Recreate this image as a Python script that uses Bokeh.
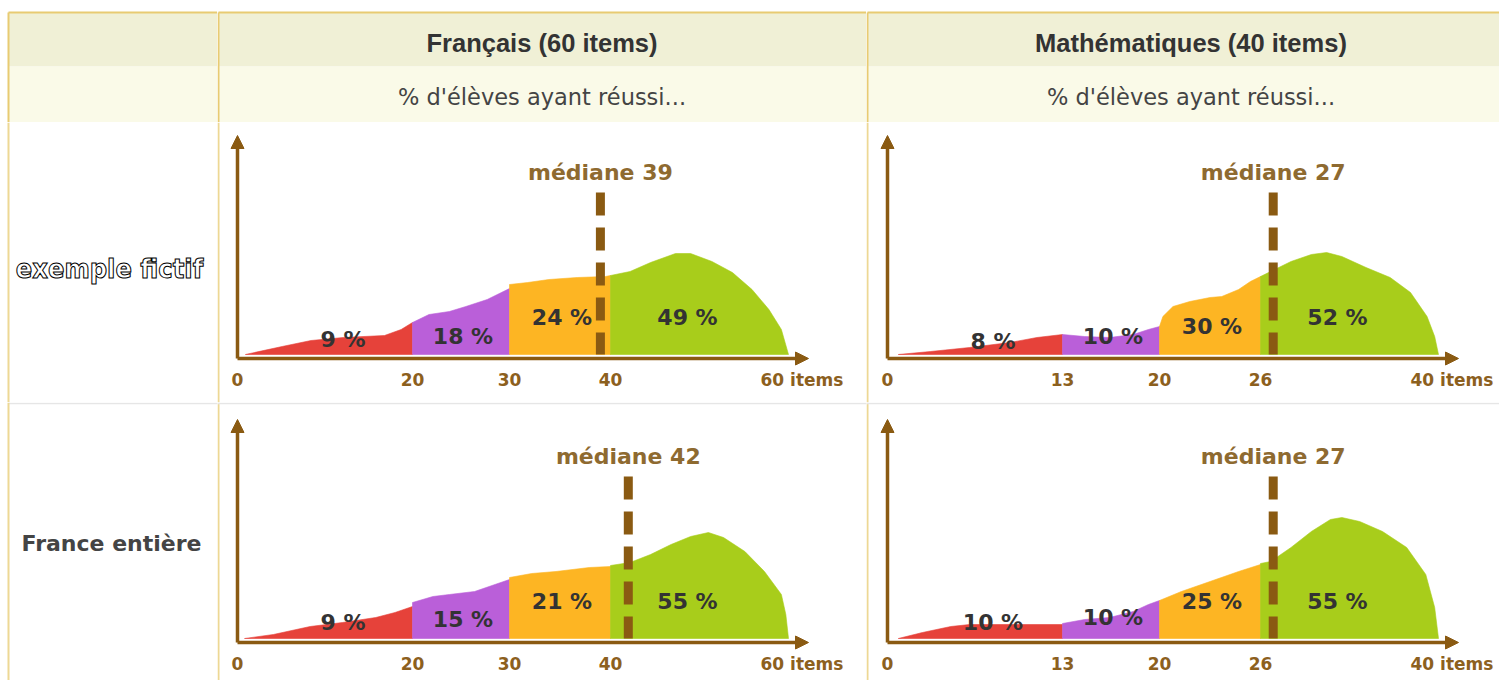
import numpy as np
from bokeh.plotting import figure
from bokeh.layouts import row, column
from bokeh.models import Range1d, Arrow, NormalHead, Span
from bokeh.core.properties import value
from bokeh.embed import file_html
from bokeh.resources import INLINE

# ---------------- data ----------------
SUBJECT_TITLES = ["Français (60 items)", "Mathématiques (40 items)"]
SUBTITLE = "% d'élèves ayant réussi..."
ROW_LABELS = ["exemple fictif", "France entière"]

FR_BOUNDS = [0, 20, 30, 40, 60]
FR_TICK_LABELS = ["0", "20", "30", "40", "60 items"]
MA_BOUNDS = [0, 13, 20, 26, 40]
MA_TICK_LABELS = ["0", "13", "20", "26", "40 items"]

# row 1 (exemple fictif) - Français
FR1_PCT = [9, 18, 24, 49]
FR1_MEDIAN = 39
FR1_X = [[0.9, 5.1, 8.4, 12.1, 16.8, 18.7, 20],
         [20, 21.7, 23.8, 25.5, 27.7, 30],
         [30, 31.8, 33.9, 36.7, 39.5, 40],
         [40, 42.2, 44.5, 47.3, 49.0, 51.4, 53.7, 55.9, 57.8, 59.2, 60]]
FR1_H = [[0, 8, 14, 17, 19, 25, 32],
         [32, 40, 43, 48, 55, 66],
         [70, 72, 75, 77, 78, 79],
         [79, 83, 92, 101, 101, 93, 82, 65, 45, 25, 0]]

# row 1 - Mathématiques
MA1_PCT = [8, 10, 30, 52]
MA1_MEDIAN = 27
MA1_X = [[0.8, 3.2, 6.1, 9.1, 11.1, 13],
         [13, 14.6, 16.4, 18.1, 19.2, 20],
         [20, 20.2, 20.8, 21.8, 23.0, 23.7, 24.7, 25.4, 26],
         [26, 26.8, 28.4, 30.0, 31.2, 32.4, 34.3, 36.2, 37.8, 39.1, 39.7, 40]]
MA1_H = [[0, 3, 7, 12, 17, 20],
         [20, 18, 17, 20, 25, 28],
         [28, 38, 48, 53, 57, 58, 65, 73, 78],
         [78, 83, 93, 100, 102, 98, 87, 77, 62, 38, 18, 0]]

# row 2 (France entière) - Français
FR2_PCT = [9, 15, 21, 55]
FR2_MEDIAN = 42
FR2_X = [[0.8, 4.1, 8.3, 12.0, 15.8, 18.0, 20],
         [20, 22.1, 23.8, 26.4, 28.5, 30],
         [30, 32.2, 34.6, 37.9, 40],
         [40, 42.2, 44.5, 46.8, 49.0, 51.0, 52.7, 55.1, 57.3, 59.2, 59.7, 60]]
FR2_H = [[0, 4, 12, 16, 21, 26, 32],
         [36, 42, 44, 47, 54, 59],
         [61, 65, 67, 71, 72],
         [73, 76, 84, 94, 102, 106, 101, 87, 67, 44, 24, 0]]

# row 2 - Mathématiques
MA2_PCT = [10, 10, 25, 55]
MA2_MEDIAN = 27
MA2_X = [[0.8, 2.6, 4.7, 6.1, 9.1, 13],
         [13, 14.6, 16.4, 18.1, 19.2, 20],
         [20, 21.3, 23.0, 24.7, 26],
         [26, 26.8, 28.4, 30.0, 31.5, 32.4, 33.8, 35.6, 37.5, 39.0, 39.7, 40]]
MA2_H = [[0, 6, 12, 14, 14, 14],
         [15, 19, 21, 27, 34, 38],
         [38, 47, 57, 67, 74],
         [75, 77, 91, 107, 119, 121, 117, 107, 91, 64, 31, 0]]

# ---------------- style / layout ----------------
SEG_COLORS = ["#E6423A", "#BA5FD9", "#FDB523", "#A8CD1B"]
BROWN = "#8A5A12"
MED_TEXT_COLOR = "#8E6A30"
TICK_COLOR = "#8C601E"
PCT_COLOR = "#333333"
GOLD = "#E8CB72"
GOLD_LIGHT = "#EDD894"
SEP_GRAY = "#E6E6E6"
BAND1 = "#F0F0D6"
BAND2 = "#FAFAE8"

EDGES = [0, 175, 272, 373, 551]       # schematic display positions of the bin edges
ARROW_X = 571
ARROW_Y = 223
BASE = 4
MED_TOP = 166
MED_TEXT_Y = 186
TICK_Y = -21
LABEL_SHIFT = [18, 2, 2, -12]

LEFT_W, FR_W, MA_W = 217, 649, 633
COL_W = 649
HEAD_H, ROW1_H, ROW2_H = 122, 280, 278
BORDER_X = 8


def base_fig(w, h, xr, yr):
    p = figure(width=w, height=h, x_range=xr, y_range=yr,
               output_backend="svg", toolbar_location=None, tools="",
               x_axis_location=None, y_axis_location=None, min_border=0,
               background_fill_color="white", border_fill_color="white")
    p.outline_line_color = None
    p.xgrid.grid_line_color = None
    p.ygrid.grid_line_color = None
    return p


def header(w, title, left_x):
    p = base_fig(w, HEAD_H, Range1d(0, w), Range1d(0, HEAD_H))
    p.quad(left=[left_x], right=[w], bottom=[56], top=[110], fill_color=BAND1, line_color=None)
    p.quad(left=[left_x], right=[w], bottom=[0], top=[56], fill_color=BAND2, line_color=None)
    p.segment(x0=[left_x], y0=[110], x1=[w], y1=[110], line_color=GOLD, line_width=2)
    p.segment(x0=[left_x], y0=[0], x1=[left_x], y1=[110], line_color=GOLD, line_width=2)
    if title:
        p.text(x=[COL_W / 2], y=[80], text=[title], text_align="center", text_baseline="middle",
               text_font=value("Liberation Sans"), text_font_style="bold",
               text_font_size="25.5px", text_color="#333333")
        p.text(x=[COL_W / 2], y=[26], text=[SUBTITLE], text_align="center", text_baseline="middle",
               text_font=value("DejaVu Sans"), text_font_size="22.5px", text_color="#444444")
    return p


def panel(w, h, x0, ybot, bounds, tick_labels, seg_x, seg_h, pct, median, label_dy, top_sep):
    p = base_fig(w, h, Range1d(-x0, w - x0), Range1d(ybot, ybot + h))

    def disp(v):
        return np.interp(np.asarray(v, dtype=float), bounds, EDGES)

    centers = []
    for k in range(4):
        xs = disp(seg_x[k])
        ys = BASE + np.asarray(seg_h[k], dtype=float)
        px = np.concatenate([[xs[0]], xs, [xs[-1]]])
        py = np.concatenate([[BASE], ys, [BASE]])
        p.patch(px, py, fill_color=SEG_COLORS[k], line_color=SEG_COLORS[k], line_width=0.6)
        centers.append((disp(bounds[k]) + disp(bounds[k + 1])) / 2 + LABEL_SHIFT[k])

    p.text(x=centers, y=[BASE + d for d in label_dy], text=[f"{v} %" for v in pct],
           text_align="center", text_baseline="middle", text_font=value("DejaVu Sans"),
           text_font_style="bold", text_font_size="22px", text_color=PCT_COLOR)

    m = float(disp(median))
    p.segment(x0=[m], y0=[MED_TOP], x1=[m], y1=[BASE], line_width=9,
              line_color=BROWN, line_dash="23 12")
    p.text(x=[m], y=[MED_TEXT_Y], text=[f"médiane {median}"], text_align="center",
           text_baseline="middle", text_font=value("DejaVu Sans"), text_font_style="bold",
           text_font_size="22px", text_color=MED_TEXT_COLOR)

    p.add_layout(Arrow(end=NormalHead(size=13, fill_color=BROWN, line_color=BROWN),
                       x_start=0, y_start=0, x_end=ARROW_X, y_end=0,
                       line_color=BROWN, line_width=3.5))
    p.add_layout(Arrow(end=NormalHead(size=13, fill_color=BROWN, line_color=BROWN),
                       x_start=0, y_start=0, x_end=0, y_end=ARROW_Y,
                       line_color=BROWN, line_width=3.5))

    tx = disp(bounds[:-1])
    p.text(x=list(tx), y=[TICK_Y] * len(tx), text=tick_labels[:-1], text_align="center",
           text_baseline="middle", text_font=value("DejaVu Sans"), text_font_style="bold",
           text_font_size="17px", text_color=TICK_COLOR)
    p.text(x=[float(disp(bounds[-1])) - 28], y=[TICK_Y], text=[tick_labels[-1]], text_align="left",
           text_baseline="middle", text_font=value("DejaVu Sans"), text_font_style="bold",
           text_font_size="17px", text_color=TICK_COLOR)

    p.add_layout(Span(location=-x0 + 1, dimension="height", line_color=GOLD_LIGHT, line_width=2))
    if top_sep:
        p.add_layout(Span(location=ybot + h - 1, dimension="width", line_color=SEP_GRAY, line_width=1.5))
    return p


def row_label(h, text, row_idx):
    p = base_fig(LEFT_W, h, Range1d(0, LEFT_W), Range1d(0, h))
    p.add_layout(Span(location=BORDER_X, dimension="height", line_color=GOLD_LIGHT, line_width=2))
    if row_idx == 0:
        p.text(x=[109], y=[134], text=[text], text_align="center", text_baseline="alphabetic",
               text_font=value("DejaVu Sans Condensed, Liberation Sans"), text_font_size="27px",
               text_font_style="bold", text_color="white", text_outline_color="black")
    else:
        p.segment(x0=[BORDER_X], y0=[h - 1], x1=[LEFT_W], y1=[h - 1], line_color=SEP_GRAY, line_width=1.5)
        p.text(x=[111], y=[137], text=[text], text_align="center", text_baseline="middle",
               text_font=value("DejaVu Sans"), text_font_style="bold",
               text_font_size="22px", text_color="#444444")
    return p


h0 = header(LEFT_W, None, BORDER_X)
h1 = header(FR_W, SUBJECT_TITLES[0], 1)
h2 = header(MA_W, SUBJECT_TITLES[1], 1)

l1 = row_label(ROW1_H, ROW_LABELS[0], 0)
p1 = panel(FR_W, ROW1_H, 20, -44, FR_BOUNDS, FR_TICK_LABELS, FR1_X, FR1_H, FR1_PCT, FR1_MEDIAN,
           [15, 18, 37, 37], False)
p2 = panel(MA_W, ROW1_H, 21, -44, MA_BOUNDS, MA_TICK_LABELS, MA1_X, MA1_H, MA1_PCT, MA1_MEDIAN,
           [13, 18, 28, 37], False)

l2 = row_label(ROW2_H, ROW_LABELS[1], 1)
p3 = panel(FR_W, ROW2_H, 20, -38, FR_BOUNDS, FR_TICK_LABELS, FR2_X, FR2_H, FR2_PCT, FR2_MEDIAN,
           [16, 19, 37, 37], True)
p4 = panel(MA_W, ROW2_H, 21, -38, MA_BOUNDS, MA_TICK_LABELS, MA2_X, MA2_H, MA2_PCT, MA2_MEDIAN,
           [16, 21, 37, 37], True)

layout = column(row(h0, h1, h2), row(l1, p1, p2), row(l2, p3, p4))

open("out.html", "w").write(file_html(layout, INLINE))
